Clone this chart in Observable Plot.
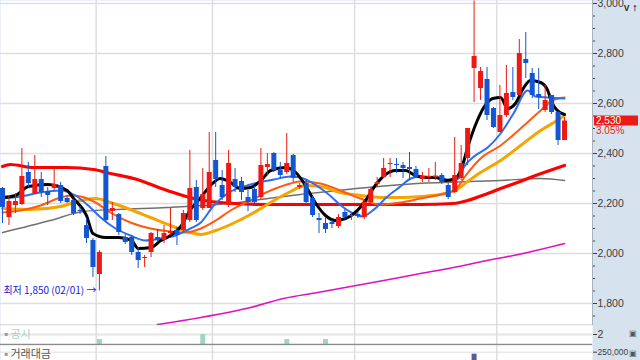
<!DOCTYPE html>
<html><head><meta charset="utf-8">
<script src="https://cdn.jsdelivr.net/npm/d3@7"></script>
<script src="https://cdn.jsdelivr.net/npm/@observablehq/plot@0.6"></script>
<style>
body{margin:0;background:#fff;}
#wrap{position:relative;width:640px;height:360px;overflow:hidden;background:#fff;}
#wrap svg{display:block;}
</style></head><body><div id="wrap"></div>
<script>
// ---- daily candles (index 0..87) ----
const open  = [2260,2144,2192,2196,2324,2240,2296,2248,2260,2272,2220,2212,2172,2112,2052,1916,2348,2168,2156,2064,2064,2004,1980,2004,2064,2052,2080,2092,2092,2132,2264,2180,2180,2372,2272,2192,2296,2288,2224,2256,2224,2344,2400,2332,2324,2392,2264,2280,2220,2140,2120,2124,2108,2164,2152,2156,2144,2204,2276,2304,2356,2356,2352,2344,2336,2296,2304,2304,2312,2272,2244,2300,2380,2740,2660,2696,2580,2484,2552,2644,2632,2776,2720,2636,2572,2632,2564,2452];
const high  = [2264,2232,2240,2420,2364,2392,2324,2264,2336,2284,2232,2216,2188,2140,2060,2012,2388,2204,2160,2076,2072,2024,1992,2084,2096,2112,2180,2104,2172,2412,2292,2340,2484,2484,2332,2412,2340,2304,2252,2268,2420,2400,2404,2364,2480,2396,2280,2292,2228,2160,2140,2132,2156,2176,2160,2164,2212,2264,2304,2380,2380,2380,2364,2404,2348,2324,2340,2364,2320,2280,2464,2432,2500,3010,2744,2744,2584,2672,2752,2744,2856,2884,2740,2740,2676,2632,2568,2544];
const low   = [2120,2112,2160,2192,2264,2236,2224,2192,2252,2200,2200,2152,2156,2040,1904,1850,2124,2132,2072,2036,1992,1940,1944,1984,2048,2040,2072,2032,2084,2124,2124,2172,2180,2264,2212,2184,2244,2212,2168,2200,2216,2312,2324,2300,2316,2284,2256,2196,2144,2080,2080,2100,2100,2136,2132,2140,2136,2200,2264,2300,2304,2320,2300,2292,2300,2284,2284,2292,2276,2216,2240,2292,2352,2604,2612,2532,2500,2484,2544,2612,2632,2700,2620,2576,2564,2556,2432,2452];
const close = [2184,2208,2208,2308,2280,2296,2244,2232,2276,2208,2204,2160,2168,2060,1944,2004,2132,2180,2084,2044,2004,1972,1984,2080,2052,2080,2088,2072,2160,2260,2132,2236,2324,2296,2224,2360,2264,2244,2204,2204,2352,2356,2332,2312,2360,2300,2272,2204,2152,2132,2096,2116,2144,2144,2148,2148,2204,2256,2284,2340,2360,2352,2340,2336,2304,2308,2308,2310,2284,2224,2312,2360,2500,2788,2728,2552,2504,2552,2640,2624,2800,2760,2632,2624,2612,2564,2452,2530];

// ---- moving averages (day index, price) ----
const ma5Idx = [0,2,4,7,10,11,13,14,16,18,20,21,23,24.5,26,27.6,29,30.7,32.2,33.7,35.3,36.8,38.4,40,41.5,43.8,45.4,46.9,48.5,50,51.5,53.1,54.6,56.2,57.7,59.3,60.8,62.4,63.9,65.5,67,68.6,70.1,71.2,72,73.5,74.5,75.9,77.1,78.2,79.4,80.7,81.7,83.3,84.4,85.1,85.9,87];
const ma5    = [2224,2232,2268,2276,2252,2220,2152,2080,2064,2064,2052,2020,2024,2052,2072,2108,2172,2224,2272,2300,2284,2260,2264,2292,2332,2344,2324,2272,2200,2152,2132,2140,2164,2212,2272,2316,2332,2332,2312,2304,2304,2292,2300,2352,2424,2532,2584,2620,2624,2580,2600,2664,2692,2684,2652,2600,2572,2556];
const ma10Idx = [0,2.8,5.9,9,11.3,13.6,15.2,17.5,19.8,22.1,24.5,26.8,29.1,30.7,32.7,34.8,38.4,42,44.6,46.1,48.1,50.3,52.8,54.6,55.7,57.3,59.6,61.6,63.2,64.7,67.8,69.3,70.6,71.4,73.2,75.1,77.1,79.1,81.3,82.5,84.4,87];
const ma10    = [2220,2228,2244,2252,2232,2184,2144,2100,2072,2052,2060,2072,2100,2124,2192,2240,2276,2296,2308,2304,2280,2240,2184,2156,2148,2172,2228,2268,2300,2308,2304,2292,2300,2344,2392,2424,2480,2560,2652,2628,2624,2620];
const ma20Idx = [0,2.8,5.9,9,10.5,12.1,14.4,16.7,19.8,22.9,26,28.3,30.7,33,35.3,38.4,41.5,44.6,46.1,49.2,52.3,55.4,58.5,61.6,64.7,67.8,70.1,71.7,74,77.1,80.2,83.3,85.1,87];
const ma20    = [2164,2172,2192,2224,2232,2228,2204,2164,2124,2100,2088,2084,2100,2132,2172,2212,2252,2280,2288,2280,2252,2220,2196,2204,2220,2236,2256,2312,2380,2432,2500,2572,2612,2624];
const ma60Idx = [0,4.3,9,12.1,14.4,16.7,19.8,22.9,26,29.1,30.7,33,35.3,38.4,41.5,44.6,46.9,49.2,52.3,55.4,58.5,61.6,64.7,68.6,70.1,72,74,77.1,80.2,83.3,85.6,87];
const ma60    = [2180,2176,2188,2212,2220,2204,2176,2144,2112,2084,2076,2092,2116,2156,2204,2248,2272,2268,2244,2232,2224,2224,2228,2240,2252,2288,2324,2372,2432,2492,2528,2552];
const ma120Idx = [0,7.4,12.5,17.8,25.5,33.3,46.1,64.2,77.1,83.3,87];
const ma120    = [2084,2132,2168,2176,2184,2196,2236,2280,2292,2300,2292];
const maRedIdx = [0,1.2,4.8,10,14.1,16.7,20.3,25.5,29.6,32.2,35.8,41.5,50.8,64.7,69.8,72,75.1,77.1,79.7,81.7,87];
const maRed    = [2348,2356,2344,2344,2336,2320,2300,2252,2220,2208,2200,2196,2196,2196,2200,2212,2240,2260,2284,2304,2352];
const ma240Idx = [24,30.7,38.4,43.5,48.8,53.9,59,64.7,69.8,76.6,79.1,87];
const ma240    = [1716,1744,1784,1820,1844,1868,1892,1920,1944,1980,1992,2040];

// ---- ticks / labels ----
const priceTicks = [1800,2000,2200,2400,2600,2800,3000];
const minorTicks = d3.range(1750, 3001, 50);
const monthStarts = [14.5, 32.5, 54.5, 76.5];
const lowLabel = [{i: 15, v: 1850, text: "최저 1,850 (02/01) →"}];
const lastPrice = 2530, lastChange = "3.05%";
const noticeIdx = [15, 31, 44, 50];
const noticeCnt = [1, 2, 1, 1];
const noticeTicks = [2];
const turnoverIdx = [73];
const turnover = [235000];
const turnoverTicks = [250000];

const xDomain = [-0.31, 91.33];
const yDomain = [1712, 3012];
const RED = "#ec1a12", BLUE = "#1256d4", PANEL = "#d7e2ef", GRID = "#dedede";
const KR = "Noto Sans CJK KR";
const AX = "Liberation Sans, Arial, sans-serif";
const days = d3.range(open.length);
const candleColor = i => close[i] >= open[i] ? RED : BLUE;
const baseStyle = {background: PANEL, fontFamily: AX, fontSize: "10.5px", color: "#3c3c3c"};

function maLine(idx, vals, stroke, w) {
  return Plot.line(idx, {x: d => d, y: (d, k) => vals[k], curve: "monotone-x", stroke, strokeWidth: w, strokeLinejoin: "round", strokeLinecap: "round"});
}

const main = Plot.plot({
  width: 640, height: 325, marginLeft: 0, marginRight: 48, marginTop: 0, marginBottom: 0,
  x: {domain: xDomain, axis: null},
  y: {domain: yDomain},
  style: baseStyle,
  marks: [
    Plot.frame({fill: "white"}),
    Plot.ruleY(priceTicks, {stroke: GRID, strokeWidth: 1.5}),
    Plot.ruleX(monthStarts, {stroke: GRID, strokeWidth: 1.5}),
    maLine(ma240Idx, ma240, "#e010c4", 1.6),
    maLine(ma120Idx, ma120, "#707070", 1.4),
    maLine(maRedIdx, maRed, "#ff0000", 3.2),
    maLine(ma60Idx, ma60, "#f5a400", 3),
    maLine(ma20Idx, ma20, "#ff5a10", 2),
    maLine(ma10Idx, ma10, "#2f6cf4", 2),
    maLine(ma5Idx, ma5, "#000000", 3),
    Plot.ruleX(days, {x: d => d, y1: i => low[i], y2: i => high[i], stroke: candleColor, strokeWidth: 1}),
    Plot.ruleX(days, {x: d => d, y1: i => open[i], y2: i => close[i], stroke: candleColor, strokeWidth: 5}),
    Plot.text(lowLabel, {x: "i", y: "v", text: "text", textAnchor: "end", dx: -3, fill: "#1a1ad6", fontFamily: KR, fontSize: 10}),
    Plot.axisY(minorTicks, {anchor: "right", tickSize: 2, tickFormat: () => ""}),
    Plot.axisY(priceTicks, {anchor: "right", tickSize: 4, tickPadding: 1, tickFormat: d3.format(",")}),
    Plot.ruleX([xDomain[1]], {stroke: "#a9b3bf"}),
    Plot.ruleY([yDomain[0]], {stroke: "#8a8a8a", strokeWidth: 1.5})
  ]
});

// last price tag
const yy = main.scale("y").apply(lastPrice);
const s = d3.select(main);
s.append("rect").attr("x", 594).attr("y", yy - 5).attr("width", 44).attr("height", 10).attr("fill", RED);
s.append("text").attr("x", 596).attr("y", yy + 3.8).attr("text-anchor", "start").attr("fill", "white").attr("font-size", 10).text(d3.format(",")(lastPrice));
s.append("text").attr("x", 596).attr("y", yy + 13).attr("text-anchor", "start").attr("fill", RED).attr("font-size", 10).text(lastChange);

const notice = Plot.plot({
  width: 640, height: 20, marginLeft: 0, marginRight: 48, marginTop: 0, marginBottom: 1,
  x: {domain: xDomain, axis: null},
  y: {domain: [0, 3.8]},
  style: baseStyle,
  marks: [
    Plot.frame({fill: "white"}),
    Plot.ruleY(noticeTicks, {stroke: "#e4e4e4", strokeWidth: 2}),
    Plot.ruleX(monthStarts, {stroke: GRID, strokeWidth: 1.5}),
    Plot.ruleX(noticeIdx, {x: d => d, y1: 0, y2: (d, k) => noticeCnt[k], stroke: "#9fd7c2", strokeWidth: 5}),
    Plot.axisY(noticeTicks, {anchor: "right", tickSize: 4, tickPadding: 1}),
    Plot.text(["■"], {frameAnchor: "top-left", dx: 4, dy: 6, fill: "#999", fontSize: 6}),
    Plot.text(["공시"], {frameAnchor: "top-left", dx: 10, dy: 5, textAnchor: "start", fill: "#a2d4c2", fontFamily: KR, fontSize: 11}),
    Plot.text(["▣"], {frameAnchor: "top-right", dx: 44, dy: 5, fill: "#555", fontSize: 8}),
    Plot.ruleY([0], {stroke: "#8a8a8a", strokeWidth: 1.5})
  ]
});

const money = Plot.plot({
  width: 640, height: 40, marginLeft: 0, marginRight: 48, marginTop: 0, marginBottom: 0,
  x: {domain: xDomain, axis: null},
  y: {domain: [0, 300000]},
  style: baseStyle,
  marks: [
    Plot.frame({fill: "white"}),
    Plot.ruleY(turnoverTicks, {stroke: GRID, strokeWidth: 1}),
    Plot.ruleX(monthStarts, {stroke: GRID, strokeWidth: 1.5}),
    Plot.ruleX(turnoverIdx, {x: d => d, y1: 0, y2: (d, k) => turnover[k], stroke: "#5a5a98", strokeWidth: 5}),
    Plot.axisY(turnoverTicks, {anchor: "right", tickSize: 4, tickPadding: 1, fontSize: 8.5, tickFormat: d3.format(",")}),
    Plot.text(["■"], {frameAnchor: "top-left", dx: 4, dy: 6, fill: "#999", fontSize: 6}),
    Plot.text(["거래대금"], {frameAnchor: "top-left", dx: 10, dy: 4.5, textAnchor: "start", fill: "#555", fontFamily: KR, fontSize: 11}),
    Plot.text(["▣"], {frameAnchor: "top-right", dx: 44, dy: 5, fill: "#555", fontSize: 8})
  ]
});

const wrap = document.getElementById("wrap");
wrap.appendChild(main);
wrap.appendChild(notice);
wrap.appendChild(money);
</script>
</body></html>
